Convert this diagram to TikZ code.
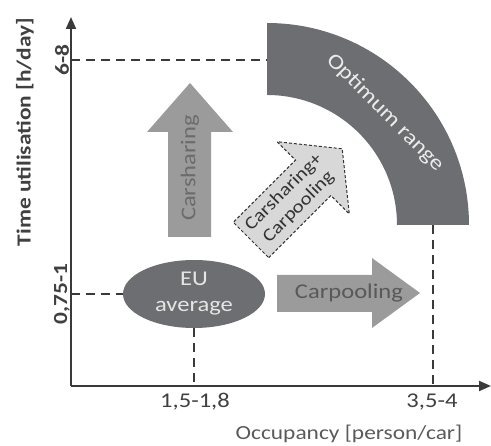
\documentclass[tikz,border=0pt]{standalone}
\usepackage{fontspec}
\setmainfont{Carlito}[FakeStretch=1.17]
\usetikzlibrary{arrows.meta,shapes.geometric}
\definecolor{darkband}{HTML}{6D6E71}
\definecolor{midarrow}{HTML}{9B9B9B}
\definecolor{lightarrow}{HTML}{D8D8D8}
\definecolor{axisgray}{HTML}{3A3A3A}
\definecolor{labelgray}{HTML}{5A5A5A}
\begin{document}
\begin{tikzpicture}[x=1pt,y=1pt,
  lbl/.style={font=\fontsize{21}{24}\selectfont, inner sep=0pt},
  guide/.style={axisgray, line width=1.2pt, dash pattern=on 9pt off 6pt},
  axisline/.style={axisgray, line width=2pt, -{Triangle[length=12pt,width=10pt]}}]
\useasboundingbox (0,0) rectangle (491,-446);
% coordinates
\coordinate (O) at (71,-386);
\coordinate (ytop) at (71,-17);
\coordinate (xend) at (491,-386);
\coordinate (y68) at (71,-60);
\coordinate (y075) at (71,-294);
\coordinate (x15) at (194,-386);
\coordinate (x35) at (433,-386);
\coordinate (bandleft) at (267,-60);
\coordinate (bandbottom) at (433,-225);
% guides
\draw[guide] (y68) -- (bandleft);
\draw[guide] (bandbottom) -- (x35);
% optimum band
\fill[darkband] (267,-23) arc[start angle=90,end angle=0,radius=202] -- (397,-225) arc[start angle=0,end angle=90,radius=130] -- cycle;
\node[lbl, text=white!92!black, rotate=-45] (opt) at (385,-113) {Optimum range};
% EU average
\node[ellipse, fill=darkband, minimum width=142pt, minimum height=68pt, inner sep=0pt] (eu) at (194,-294) {};
\node[lbl, text=white!90!black, align=center, font=\fontsize{21}{26}\selectfont] (eutext) at (eu) {EU\\average};
\draw[guide] (y075) -- (eu.west);
\draw[guide] (eu.south) -- (x15);
% Carsharing arrow
\fill[midarrow] (168,-237) -- (168,-132) -- (147,-132) -- (190,-83) -- (233,-132) -- (211,-132) -- (211,-237) -- cycle;
\node[lbl, text=black!58, rotate=90] (cs) at (190,-168) {Carsharing};
% Carpooling arrow
\fill[midarrow] (277,-275) -- (372,-275) -- (372,-258) -- (420,-293) -- (372,-328) -- (372,-312) -- (277,-312) -- cycle;
\node[lbl, text=black!65] (cp) at (349,-293) {Carpooling};
% Combined arrow
\begin{scope}[shift={(251,-240)}, rotate=45]
\draw[draw=black!80, fill=lightarrow, line width=1pt, dash pattern=on 3pt off 2pt] (0,-25) -- (88,-25) -- (88,-51) -- (129,0) -- (88,51) -- (88,25) -- (0,25) -- cycle;
\node[lbl, text=black!80, rotate=45, align=center, font=\fontsize{18}{21}\selectfont] (both) at (57,0) {Carsharing+\\Carpooling};
\end{scope}
% axes
\draw[axisline] (O) -- (ytop);
\draw[axisline] (O) -- (xend);
% labels
\node[lbl, text=black!75, font=\bfseries\fontsize{20}{24}\selectfont, rotate=90] (ylab) at (25,-132) {Time utilisation [h/day]};
\node[lbl, text=black!75, font=\bfseries\fontsize{20}{24}\selectfont, rotate=90] (l68) at (62,-60) {6-8};
\node[lbl, text=black!75, font=\bfseries\fontsize{20}{24}\selectfont, rotate=90] (l075) at (62,-294) {0,75-1};
\node[lbl, text=black!75] (l15) at (195,-402) {1,5-1,8};
\node[lbl, text=black!75] (l35) at (432,-402) {3,5-4};
\node[lbl, text=labelgray, font=\fontsize{20}{24}\selectfont] (xlab) at (349,-434) {Occupancy [person/car]};
\end{tikzpicture}
\end{document}
